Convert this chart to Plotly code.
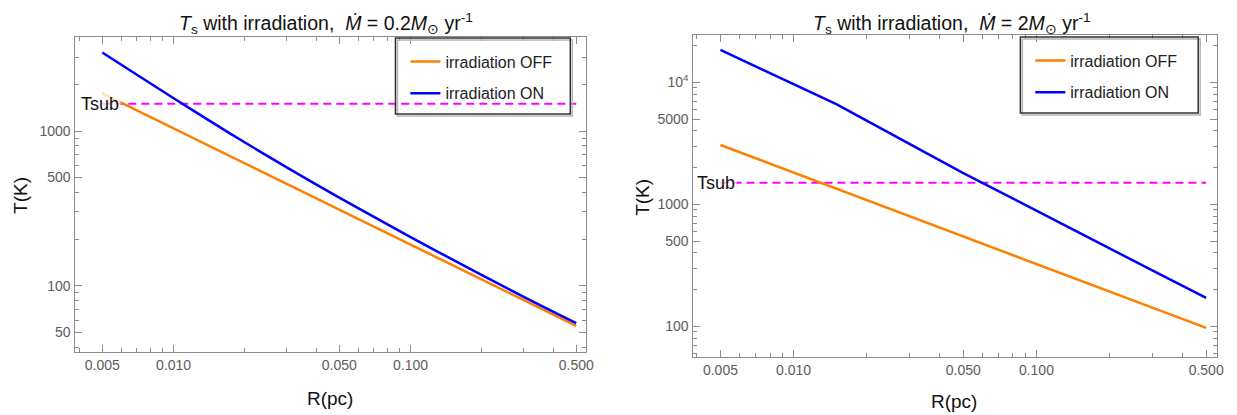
import math
import plotly.graph_objects as go

# ---------------- data ----------------
R_PC = [0.005, 0.007, 0.01, 0.015, 0.02, 0.03, 0.05, 0.1, 0.2, 0.3, 0.5]

# left panel: Mdot = 0.2 Msun/yr
LEFT_OFF = [1750, 1360, 1040, 768, 620, 455, 310, 185, 110, 81, 55]
LEFT_ON = [3220, 2310, 1628, 1103, 842, 582, 371, 206, 117, 84.7, 57.2]

# right panel: Mdot = 2 Msun/yr
RIGHT_OFF = [3060, 2380, 1820, 1340, 1080, 798, 544, 323, 192, 142, 97]
RIGHT_ON = [18400, 13450, 9660, 6630, 4850, 3130, 1800, 889, 434, 287, 171]

TSUB = 1500
TSUB_R = [0.005, 0.5]

X_TICKS = [0.005, 0.01, 0.05, 0.1, 0.5]
X_TICKTEXT = ["0.005", "0.010", "0.050", "0.100", "0.500"]
X_MINOR = [0.004, 0.006, 0.007, 0.008, 0.009, 0.02, 0.03, 0.04,
           0.06, 0.07, 0.08, 0.09, 0.2, 0.3, 0.4]

YL_TICKS = [50, 100, 500, 1000]
YL_TICKTEXT = ["50", "100", "500", "1000"]
YL_MINOR = [40, 60, 70, 80, 90, 200, 300, 400, 600, 700, 800, 900,
            2000, 3000, 4000]

YR_TICKS = [100, 500, 1000, 5000, 10000]
YR_TICKTEXT = ["100", "500", "1000", "5000", "10<sup>4</sup>"]
YR_MINOR = [60, 70, 80, 90, 200, 300, 400, 600, 700, 800, 900,
            2000, 3000, 4000, 6000, 7000, 8000, 9000, 20000]

TITLES = ["<i>T</i><sub>s</sub> with irradiation, &nbsp;<i>Ṁ</i> = 0.2<i>M</i><sub>⊙</sub> yr<sup>-1</sup>",
          "<i>T</i><sub>s</sub> with irradiation, &nbsp;<i>Ṁ</i> = 2<i>M</i><sub>⊙</sub> yr<sup>-1</sup>"]

# ---------------- style ----------------
OFFSET = 8                      # page body margin
W, H = 1237 - OFFSET, 415 - OFFSET
FONT = "Liberation Sans, Arial, sans-serif"
ORANGE = "#FF8000"
BLUE = "#0000FF"
MAGENTA = "#FF00FF"
FRAME = "#8c8c8c"
TICKLBL = "#5c5c5c"


def px_x(x):
    return (x - OFFSET) / W


def px_y(y):
    return 1 - (y - OFFSET) / H


fig = go.Figure()

panels = [
    dict(xa="x", ya="y", off=LEFT_OFF, on=LEFT_ON, legend="legend", shape="spline"),
    dict(xa="x2", ya="y2", off=RIGHT_OFF, on=RIGHT_ON, legend="legend2", shape="linear"),
]

for p in panels:
    fig.add_trace(go.Scatter(x=TSUB_R, y=[TSUB, TSUB], mode="lines",
                             line=dict(color=MAGENTA, width=2, dash="8px,5px"),
                             xaxis=p["xa"], yaxis=p["ya"], showlegend=False,
                             hoverinfo="skip"))
    fig.add_trace(go.Scatter(x=R_PC, y=p["off"], mode="lines", name="irradiation OFF",
                             line=dict(color=ORANGE, width=2.5),
                             xaxis=p["xa"], yaxis=p["ya"], legend=p["legend"],
                             legendgroup="off"))
    fig.add_trace(go.Scatter(x=R_PC, y=p["on"], mode="lines", name="irradiation ON",
                             line=dict(color=BLUE, width=2.5, shape=p["shape"]),
                             xaxis=p["xa"], yaxis=p["ya"], legend=p["legend"],
                             legendgroup="on"))


def axis(domain, rng, tickvals, ticktext, minor, anchor):
    return dict(type="log", domain=domain, range=rng, anchor=anchor,
                showline=True, linecolor=FRAME, linewidth=1.3, mirror="allticks",
                ticks="inside", ticklen=7, tickwidth=1, tickcolor=FRAME,
                tickvals=tickvals, ticktext=ticktext,
                tickfont=dict(family=FONT, size=14, color=TICKLBL),
                minor=dict(ticks="inside", ticklen=4, tickwidth=1, tickcolor=FRAME,
                           tickvals=minor, showgrid=False),
                showgrid=False, zeroline=False, fixedrange=True)


fig.update_layout(
    width=W, height=H, margin=dict(l=0, r=0, t=0, b=0),
    paper_bgcolor="white", plot_bgcolor="white",
    font=dict(family=FONT, color="#111"),
    xaxis=axis([px_x(75), px_x(590)], [-2.418, -0.259], X_TICKS, X_TICKTEXT, X_MINOR, "y"),
    yaxis=axis([px_y(352), px_y(37)], [1.5714, 3.6076], YL_TICKS, YL_TICKTEXT, YL_MINOR, "x"),
    xaxis2=axis([px_x(697), px_x(1225)], [-2.416, -0.256], X_TICKS, X_TICKTEXT, X_MINOR, "y2"),
    yaxis2=axis([px_y(357), px_y(35)], [1.7484, 4.3877], YR_TICKS, YR_TICKTEXT, YR_MINOR, "x2"),
    legend=dict(x=px_x(408), y=px_y(44.5), xanchor="left", yanchor="top",
                bgcolor="rgba(0,0,0,0)", borderwidth=0, tracegroupgap=8,
                font=dict(family=FONT, size=16, color="#222")),
    legend2=dict(x=px_x(1037), y=px_y(43.5), xanchor="left", yanchor="top",
                 bgcolor="rgba(0,0,0,0)", borderwidth=0, tracegroupgap=8,
                 font=dict(family=FONT, size=16, color="#222")),
)

# legend frames
for (x0, y0, x1, y1) in [(398, 38, 574, 114), (1027, 37, 1206, 113)]:
    fig.add_shape(type="rect", xref="paper", yref="paper",
                  x0=px_x(x0 + 2), x1=px_x(x1 + 2), y0=px_y(y1 + 2), y1=px_y(y0 + 2),
                  line=dict(color="#b5b5b5", width=1.5), layer="above")
    fig.add_shape(type="rect", xref="paper", yref="paper",
                  x0=px_x(x0), x1=px_x(x1), y0=px_y(y1), y1=px_y(y0),
                  line=dict(color="#333333", width=1.5), layer="above")

ann = []
# titles
for txt, cx in zip(TITLES, [328, 958]):
    ann.append(dict(text=txt, xref="paper", yref="paper", x=px_x(cx), y=1.0,
                    xanchor="center", yanchor="top", showarrow=False,
                    font=dict(family=FONT, size=19.5, color="#111")))
# axis labels
for cx, cy in [(332, 398), (960, 401)]:
    ann.append(dict(text="R(pc)", xref="paper", yref="paper", x=px_x(cx), y=px_y(cy),
                    xanchor="center", yanchor="middle", showarrow=False,
                    font=dict(family=FONT, size=19, color="#111")))
for cx, cy in [(20, 195), (646, 197)]:
    ann.append(dict(text="T(K)", xref="paper", yref="paper", x=px_x(cx), y=px_y(cy),
                    xanchor="center", yanchor="middle", showarrow=False, textangle=-90,
                    font=dict(family=FONT, size=19, color="#111")))
# Tsub labels
for xr, yr, shift in [("x", "y", -2), ("x2", "y2", -4)]:
    ann.append(dict(text="Tsub", xref=xr, yref=yr, x=math.log10(TSUB_R[0]), y=math.log10(TSUB),
                    xanchor="center", yanchor="middle", showarrow=False, xshift=shift,
                    bgcolor="rgba(255,255,255,0.75)", borderpad=1,
                    font=dict(family=FONT, size=18, color="#111")))
fig.update_layout(annotations=ann)

fig.write_html("out.html")
